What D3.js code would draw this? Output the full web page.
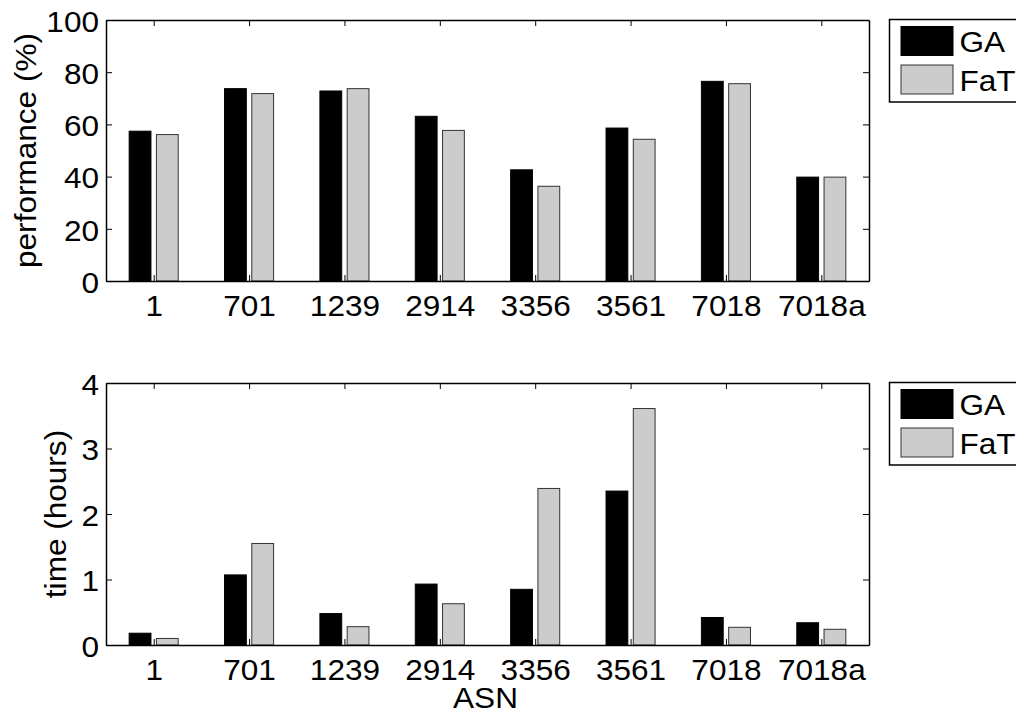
<!DOCTYPE html>
<html>
    <head>
        <script src="https://d3js.org/d3.v7.min.js"></script>
        <style>
            body {
                margin: 0;
                overflow: hidden;
                background: #fff;
            }
            text {
                font-family: 'Liberation Sans', Arial, Helvetica, sans-serif;
                font-size: 29.5px;
                fill: #000;
            }
            .axis path,
            .axis line {
                stroke: #000;
                stroke-width: 1.5px;
            }
            .axis line {
                stroke-width: 1px;
            }
        </style>
    </head>

    <body>
        <script>
            const asn = ['1', '701', '1239', '2914', '3356', '3561', '7018', '7018a'];
            const series = ['GA', 'FaT'];
            const perfGA = [57.4, 73.7, 72.8, 63.1, 42.6, 58.6, 76.5, 39.8];
            const perfFaT = [56.1, 71.8, 73.7, 57.7, 36.3, 54.3, 75.6, 39.8];
            const timeGA = [0.18, 1.07, 0.48, 0.93, 0.85, 2.35, 0.42, 0.34];
            const timeFaT = [0.1, 1.55, 0.28, 0.63, 2.39, 3.61, 0.27, 0.24];
            const perfTicks = [0, 20, 40, 60, 80, 100];
            const timeTicks = [0, 1, 2, 3, 4];

            const width = 1016;
            const height = 713;
            const fill = { GA: '#000', FaT: '#cccccc' };
            const edge = { GA: '#000', FaT: '#333' };
            const sx = 1.07; // glyphs in the original are a bit wider than Arial

            const svg = d3.select('body').append('svg').attr('width', width).attr('height', height);

            const x = d3.scaleLinear().domain([0.5, 8.5]).range([106, 869]);

            const panels = [
                { top: 20, bottom: 281, values: [perfGA, perfFaT], ticks: perfTicks, label: 'performance (%)', labelX: 36 },
                { top: 383, bottom: 645, values: [timeGA, timeFaT], ticks: timeTicks, label: 'time (hours)', labelX: 66 },
            ];

            const offsets = [-0.1429, 0.1429];
            const barW = x(1.2286) - x(1);

            panels.forEach((p) => {
                const y = d3
                    .scaleLinear()
                    .domain(d3.extent(p.ticks))
                    .range([p.bottom, p.top]);
                const g = svg.append('g');

                series.forEach((s, si) => {
                    g.append('g')
                        .selectAll('rect')
                        .data(p.values[si])
                        .join('rect')
                        .attr('x', (d, i) => x(i + 1 + offsets[si]) - barW / 2)
                        .attr('width', barW)
                        .attr('y', (d) => y(d))
                        .attr('height', (d) => y(0) - y(d))
                        .attr('fill', fill[s])
                        .attr('stroke', edge[s])
                        .attr('stroke-width', 1);
                });

                const cats = d3.range(1, asn.length + 1);

                const bottomAxis = g
                    .append('g')
                    .attr('class', 'axis')
                    .attr('transform', `translate(0,${p.bottom})`)
                    .call(d3.axisBottom(x).tickValues(cats).tickSize(-6).tickSizeOuter(0).tickFormat((i) => asn[i - 1]));
                bottomAxis.selectAll('text').attr('y', null).attr('dy', null).attr('transform', `translate(0,34.5) scale(${sx},1)`);

                g.append('g')
                    .attr('class', 'axis')
                    .attr('transform', `translate(0,${p.top})`)
                    .call(d3.axisTop(x).tickValues(cats).tickSize(-6).tickSizeOuter(0).tickFormat(''));

                const leftAxis = g
                    .append('g')
                    .attr('class', 'axis')
                    .attr('transform', `translate(${x.range()[0]},0)`)
                    .call(d3.axisLeft(y).tickValues(p.ticks).tickSize(-6).tickSizeOuter(0).tickFormat(d3.format('d')));
                leftAxis.selectAll('text').attr('x', null).attr('dy', '0.38em').attr('transform', `translate(-7,0) scale(${sx},1)`);

                g.append('g')
                    .attr('class', 'axis')
                    .attr('transform', `translate(${x.range()[1]},0)`)
                    .call(d3.axisRight(y).tickValues(p.ticks).tickSize(-6).tickSizeOuter(0).tickFormat(''));

                g.append('text')
                    .attr('text-anchor', 'middle')
                    .attr('transform', `translate(${p.labelX},${(p.top + p.bottom) / 2}) rotate(-90) scale(${sx},1)`)
                    .text(p.label);

                // legend
                const lg = svg.append('g').attr('transform', `translate(889.5,${p.top - 0.5})`);
                lg.append('rect').attr('width', 160).attr('height', 82.5).attr('fill', '#fff').attr('stroke', '#000').attr('stroke-width', 1.5);
                series.forEach((s, si) => {
                    const yy = 7 + si * 38.5;
                    lg.append('rect')
                        .attr('x', 11.5)
                        .attr('y', yy)
                        .attr('width', 52)
                        .attr('height', 29)
                        .attr('fill', fill[s])
                        .attr('stroke', edge[s])
                        .attr('stroke-width', 1);
                    lg.append('text')
                        .attr('transform', `translate(70,${yy + 25.5}) scale(${sx},1)`)
                        .text(s);
                });
            });

            svg.append('text')
                .attr('text-anchor', 'middle')
                .attr('transform', `translate(${(x.range()[0] + x.range()[1]) / 2 - 2},708) scale(${sx},1)`)
                .text('ASN');
        </script>
    </body>
</html>
